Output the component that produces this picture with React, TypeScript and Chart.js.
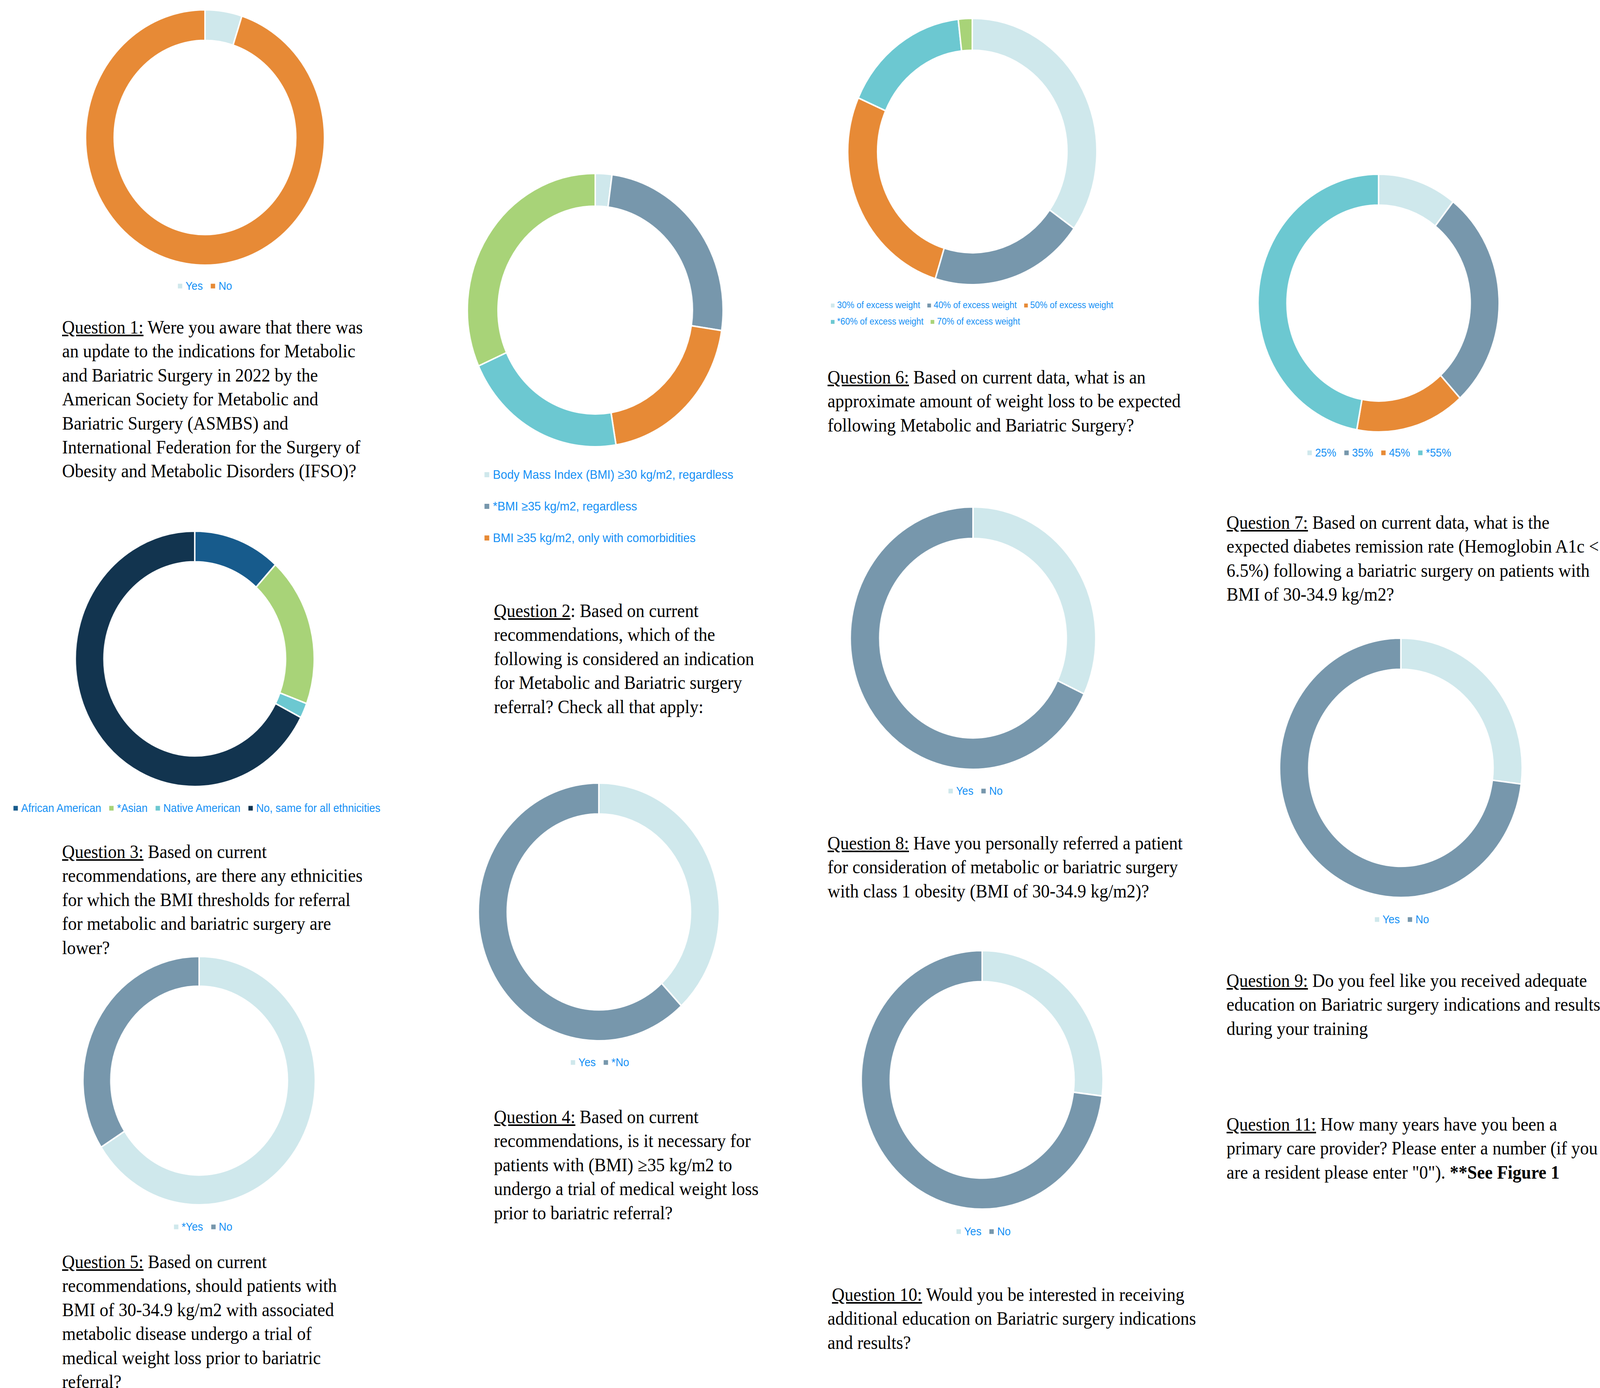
import React, { useEffect, useRef } from 'react';
import { Chart, registerables } from 'chart.js';

Chart.register(...registerables);

// ---------- colours ----------
const LIGHT = '#CFE8EC';
const SLATE = '#7797AC';
const ORANGE = '#E78A36';
const TEAL = '#6CC8D1';
const GREEN = '#A8D378';
const BLUE = '#175B8C';
const NAVY = '#12344F';
const LEGEND_TEXT = '#1590F5';

// ---------- data ----------
const q1Labels = ['Yes', 'No'];
const q1Values = [5, 95];

const q2Labels = [
  'Body Mass Index (BMI) ≥30 kg/m2, regardless',
  '*BMI ≥35 kg/m2, regardless',
  'BMI ≥35 kg/m2, only with comorbidities',
  'BMI ≥30 kg/m2, with comorbidities',
  'BMI ≥40 kg/m2, regardless',
];
const q2Values = [2.1, 25.3, 20.0, 20.9, 31.7];
const q2LegendShown = 3;

const q3Labels = ['African American', '*Asian', 'Native American', 'No, same for all ethnicities'];
const q3Values = [11.8, 18.9, 1.9, 67.4];

const q4Labels = ['Yes', '*No'];
const q4Values = [38, 62];

const q5Labels = ['*Yes', 'No'];
const q5Values = [66, 34];

const q6Labels = [
  '30% of excess weight',
  '40% of excess weight',
  '50% of excess weight',
  '*60% of excess weight',
  '70% of excess weight',
];
const q6Values = [34.8, 20.0, 26.8, 16.6, 1.8];

const q7Labels = ['25%', '35%', '45%', '*55%'];
const q7Values = [10.6, 27.6, 14.7, 47.1];

const q8Labels = ['Yes', 'No'];
const q8Values = [32, 68];

const q9Labels = ['Yes', 'No'];
const q9Values = [27, 73];

const q10Labels = ['Yes', 'No'];
const q10Values = [27, 73];

// ---------- question texts ----------
const q1Text = [
  'Were you aware that there was',
  'an update to the indications for Metabolic',
  'and Bariatric Surgery in 2022 by the',
  'American Society for Metabolic and',
  'Bariatric Surgery (ASMBS) and',
  'International Federation for the Surgery of',
  'Obesity and Metabolic Disorders (IFSO)?',
];
const q2Text = [
  'Based on current',
  'recommendations, which of the',
  'following is considered an indication',
  'for Metabolic and Bariatric surgery',
  'referral? Check all that apply:',
];
const q3Text = [
  'Based on current',
  'recommendations, are there any ethnicities',
  'for which the BMI thresholds for referral',
  'for metabolic and bariatric surgery are',
  'lower?',
];
const q4Text = [
  'Based on current',
  'recommendations, is it necessary for',
  'patients with (BMI) ≥35 kg/m2 to',
  'undergo a trial of medical weight loss',
  'prior to bariatric referral?',
];
const q5Text = [
  'Based on current',
  'recommendations, should patients with',
  'BMI of 30-34.9 kg/m2 with associated',
  'metabolic disease undergo a trial of',
  'medical weight loss prior to bariatric',
  'referral?',
];
const q6Text = [
  'Based on current data, what is an',
  'approximate amount of weight loss to be expected',
  'following Metabolic and Bariatric Surgery?',
];
const q7Text = [
  'Based on current data, what is the',
  'expected diabetes remission rate (Hemoglobin A1c <',
  '6.5%) following a bariatric surgery on patients with',
  'BMI of 30-34.9 kg/m2?',
];
const q8Text = [
  'Have you personally referred a patient',
  'for consideration of metabolic or bariatric surgery',
  'with class 1 obesity (BMI of 30-34.9 kg/m2)?',
];
const q9Text = [
  'Do you feel like you received adequate',
  'education on Bariatric surgery indications and results',
  'during your training',
];
const q10Text = [
  'Would you be interested in receiving',
  'additional education on Bariatric surgery indications',
  'and results?',
];
const q11Text = [
  'How many years have you been a',
  'primary care provider? Please enter a number (if you',
  'are a resident please enter "0"). ',
];
const q11Bold = '**See Figure 1';

const PAGE_W = 4379;
const PAGE_H = 3554;

// ---------- components ----------
type DonutProps = { labels: string[]; values: number[]; colors: string[]; cx: number; cy: number; r: number };

function Donut({ labels, values, colors, cx, cy, r }: DonutProps) {
  const ref = useRef<HTMLCanvasElement>(null);
  const bw = 4;
  const size = Math.round(2 * r + bw);
  useEffect(() => {
    const chart = new Chart(ref.current as HTMLCanvasElement, {
      type: 'doughnut',
      data: {
        labels,
        datasets: [{ data: values, backgroundColor: colors, borderColor: '#ffffff', borderWidth: bw }],
      },
      options: {
        responsive: false,
        animation: false,
        devicePixelRatio: 1,
        cutout: '76%',
        layout: { padding: 0 },
        plugins: { legend: { display: false }, tooltip: { enabled: false } },
      },
    });
    return () => chart.destroy();
  }, []);
  return (
    <canvas
      ref={ref}
      width={size}
      height={size}
      style={{ position: 'absolute', left: cx - size / 2, top: cy - size / 2, width: size, height: size }}
    />
  );
}

type LegendItemProps = { label: string; color: string; fontSize: number };
function LegendItem({ label, color, fontSize }: LegendItemProps) {
  const m = Math.round(fontSize * 0.42);
  return (
    <span style={{ display: 'inline-flex', alignItems: 'center', whiteSpace: 'nowrap' }}>
      <span style={{ display: 'inline-block', width: m, height: m, background: color, marginRight: Math.round(fontSize * 0.3) }} />
      <span>{label}</span>
    </span>
  );
}

type RowLegendProps = { labels: string[]; colors: string[]; x: number; y: number; fontSize: number; gap: number; align: 'center' | 'left' };
function RowLegend({ labels, colors, x, y, fontSize, gap, align }: RowLegendProps) {
  return (
    <div
      style={{
        position: 'absolute',
        left: x,
        top: y,
        transform: align === 'center' ? 'translate(-50%, -50%)' : 'translate(0, -50%)',
        display: 'flex',
        gap,
        fontFamily: '"Liberation Sans", Arial, sans-serif',
        fontSize,
        lineHeight: 1,
        color: LEGEND_TEXT,
        whiteSpace: 'nowrap',
      }}
    >
      {labels.map((l, i) => (
        <LegendItem key={i} label={l} color={colors[i]} fontSize={fontSize} />
      ))}
    </div>
  );
}

type QTextProps = { num: string; lines: string[]; x: number; y: number; lead?: string; bold?: string; plainColon?: boolean };
function QText({ num, lines, x, y, lead, bold, plainColon }: QTextProps) {
  return (
    <div
      style={{
        position: 'absolute',
        left: x,
        top: y,
        fontFamily: '"Liberation Serif", "Times New Roman", serif',
        fontSize: 48,
        lineHeight: '61.4px',
        color: '#000',
        whiteSpace: 'pre',
      }}
    >
      {lines.map((ln, i) => (
        <div key={i}>
          {i === 0 ? (
            <>
              {lead || ''}
              <span style={{ textDecoration: 'underline' }}>{plainColon ? `Question ${num}` : `Question ${num}:`}</span>
              {plainColon ? ': ' : ' '}
            </>
          ) : null}
          {ln}
          {i === lines.length - 1 && bold ? <b>{bold}</b> : null}
        </div>
      ))}
    </div>
  );
}

export default function App() {
  const c2 = [LIGHT, SLATE, ORANGE, TEAL, GREEN];
  const iw = typeof window !== 'undefined' ? window.innerWidth : PAGE_W;
  const ih = typeof window !== 'undefined' ? window.innerHeight : PAGE_H;
  const sx = Math.min(1, iw / PAGE_W);
  const sy = Math.min(1, ih / PAGE_H);
  return (
    <div
      style={{
        position: 'absolute',
        left: 0,
        top: 0,
        width: PAGE_W,
        height: PAGE_H,
        overflow: 'hidden',
        background: '#fff',
        transform: `scale(${sx}, ${sy})`,
        transformOrigin: '0 0',
      }}
    >
      {/* Q1 */}
      <Donut labels={q1Labels} values={q1Values} colors={[LIGHT, ORANGE]} cx={561} cy={352} r={327} />
      <RowLegend labels={q1Labels} colors={[LIGHT, ORANGE]} x={561} y={732} fontSize={29} gap={22} align="center" />
      <QText num="1" lines={q1Text} x={170} y={807} />

      {/* Q2 */}
      <Donut labels={q2Labels} values={q2Values} colors={c2} cx={1629} cy={794} r={350} />
      {q2Labels.slice(0, q2LegendShown).map((l, i) => (
        <RowLegend key={i} labels={[l]} colors={[c2[i]]} x={1326} y={1215 + i * 81} fontSize={32} gap={0} align="left" />
      ))}
      <QText num="2" lines={q2Text} x={1352} y={1533} plainColon />

      {/* Q3 */}
      <Donut labels={q3Labels} values={q3Values} colors={[BLUE, GREEN, TEAL, NAVY]} cx={533} cy={1687} r={327} />
      <RowLegend labels={q3Labels} colors={[BLUE, GREEN, TEAL, NAVY]} x={539} y={2069} fontSize={29} gap={22} align="center" />
      <QText num="3" lines={q3Text} x={170} y={2150} />

      {/* Q4 */}
      <Donut labels={q4Labels} values={q4Values} colors={[LIGHT, SLATE]} cx={1639} cy={2335} r={330} />
      <RowLegend labels={q4Labels} colors={[LIGHT, SLATE]} x={1642} y={2720} fontSize={29} gap={22} align="center" />
      <QText num="4" lines={q4Text} x={1352} y={2829} />

      {/* Q5 */}
      <Donut labels={q5Labels} values={q5Values} colors={[LIGHT, SLATE]} cx={545} cy={2767} r={318} />
      <RowLegend labels={q5Labels} colors={[LIGHT, SLATE]} x={556} y={3141} fontSize={29} gap={22} align="center" />
      <QText num="5" lines={q5Text} x={170} y={3200} />

      {/* Q6 */}
      <Donut labels={q6Labels} values={q6Values} colors={c2} cx={2661} cy={388} r={341} />
      <RowLegend labels={q6Labels.slice(0, 3)} colors={c2.slice(0, 3)} x={2274} y={782} fontSize={23.5} gap={20} align="left" />
      <RowLegend labels={q6Labels.slice(3)} colors={c2.slice(3)} x={2274} y={824} fontSize={23.5} gap={20} align="left" />
      <QText num="6" lines={q6Text} x={2265} y={935} />

      {/* Q7 */}
      <Donut labels={q7Labels} values={q7Values} colors={[LIGHT, SLATE, ORANGE, TEAL]} cx={3773} cy={776} r={330} />
      <RowLegend labels={q7Labels} colors={[LIGHT, SLATE, ORANGE, TEAL]} x={3775} y={1159} fontSize={29} gap={22} align="center" />
      <QText num="7" lines={q7Text} x={3357} y={1307} />

      {/* Q8 */}
      <Donut labels={q8Labels} values={q8Values} colors={[LIGHT, SLATE]} cx={2663} cy={1634} r={336} />
      <RowLegend labels={q8Labels} colors={[LIGHT, SLATE]} x={2670} y={2025} fontSize={29} gap={22} align="center" />
      <QText num="8" lines={q8Text} x={2265} y={2128} />

      {/* Q9 */}
      <Donut labels={q9Labels} values={q9Values} colors={[LIGHT, SLATE]} cx={3834} cy={1966} r={332} />
      <RowLegend labels={q9Labels} colors={[LIGHT, SLATE]} x={3837} y={2354} fontSize={29} gap={22} align="center" />
      <QText num="9" lines={q9Text} x={3357} y={2480} />

      {/* Q10 */}
      <Donut labels={q10Labels} values={q10Values} colors={[LIGHT, SLATE]} cx={2688} cy={2765} r={331} />
      <RowLegend labels={q10Labels} colors={[LIGHT, SLATE]} x={2692} y={3153} fontSize={29} gap={22} align="center" />
      <QText num="10" lines={q10Text} x={2265} y={3284} lead=" " />

      {/* Q11 */}
      <QText num="11" lines={q11Text} x={3357} y={2848} bold={q11Bold} />
    </div>
  );
}
